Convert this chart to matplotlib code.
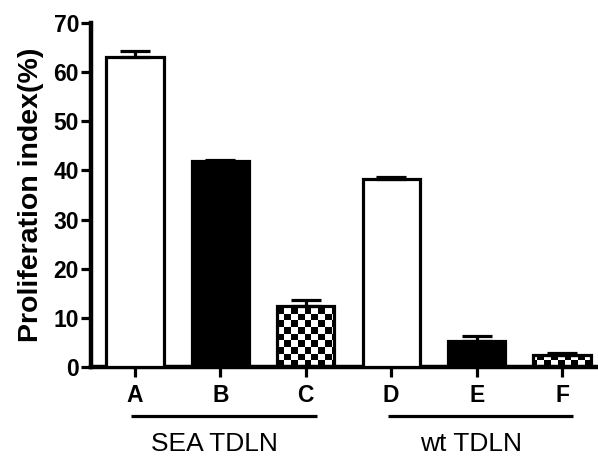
import numpy as np
import matplotlib
matplotlib.use("Agg")
import matplotlib.pyplot as plt
import matplotlib.transforms as mtransforms

plt.rcParams['font.family'] = ['Liberation Sans', 'DejaVu Sans']

categories = ['A', 'B', 'C', 'D', 'E', 'F']
values = [63.1, 42.0, 12.5, 38.2, 5.3, 2.5]
errors = [1.1, 0.2, 1.1, 0.4, 1.0, 0.3]
fills = ['white', 'black', 'checker', 'white', 'black', 'checker']
groups = ['SEA TDLN', 'wt TDLN']
group_members = [[0, 1, 2], [3, 4, 5]]
yticks = [0, 10, 20, 30, 40, 50, 60, 70]
ylabel = 'Proliferation index(%)'

fig = plt.figure(figsize=(5.98, 4.58), dpi=100)
ax = fig.add_axes([0.152, 0.1987, 0.848, 0.7511])

x = np.arange(len(categories))
xlim = (-0.515, 5.42)
ylim = (0, 70)
width = 0.67

facecolors = [('none' if f == 'checker' else f) for f in fills]
bars = ax.bar(x, values, width=width, color=facecolors, edgecolor='black',
              linewidth=2.3, zorder=3)

# checkerboard pattern clipped to bars
ncx, ncy = 76, 52
checker = (np.add.outer(np.arange(ncy), np.arange(ncx)) % 2).astype(float)
for b, f in zip(bars, fills):
    if f == 'checker':
        im = ax.imshow(checker, cmap='gray', extent=(xlim[0], xlim[1], ylim[0], ylim[1]),
                       aspect='auto', interpolation='nearest', zorder=2, origin='lower')
        im.set_clip_path(b)

ax.errorbar(x, values, yerr=[np.zeros(len(values)), errors], fmt='none',
            ecolor='black', elinewidth=2.3, capsize=11, capthick=2.3, zorder=4)

ax.set_xlim(*xlim)
ax.set_ylim(*ylim)
ax.set_xticks(x)
ax.set_xticklabels(categories, fontsize=16.5, fontweight='bold')
ax.set_yticks(yticks)
ax.set_yticklabels([str(t) for t in yticks], fontsize=16.5, fontweight='bold')
ax.tick_params(axis='both', length=7, width=2.3, direction='out')
ax.tick_params(axis='y', pad=1.5)
ax.tick_params(axis='x', pad=5.5)
ax.set_ylabel(ylabel, fontsize=20.5, fontweight='bold', labelpad=7)

for s in ['top', 'right']:
    ax.spines[s].set_visible(False)
for s in ['left', 'bottom']:
    ax.spines[s].set_linewidth(3.2)

trans = mtransforms.blended_transform_factory(ax.transData, ax.transAxes)
for name, members in zip(groups, group_members):
    x0 = x[members[0]] - 0.04
    x1 = x[members[-1]] + 0.13
    ax.plot([x0, x1], [-0.142, -0.142], color='black', lw=2.3, transform=trans,
            clip_on=False, solid_capstyle='butt')
    ax.text(np.mean(x[members]) - 0.07, -0.245, name, transform=trans,
            ha='center', va='baseline', fontsize=19)

fig.savefig('out.png', dpi=100)
